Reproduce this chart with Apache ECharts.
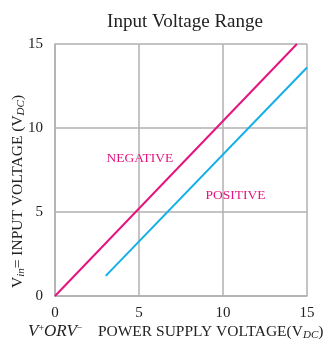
<!DOCTYPE html>
<html><head><meta charset="utf-8">
<script src="https://cdn.jsdelivr.net/npm/echarts@6/dist/echarts.min.js"></script>
<style>html,body{margin:0;padding:0;background:#fff}#c{width:326px;height:344px}</style>
</head><body><div id="c"></div>
<script>
var title = 'Input Voltage Range';
var xTicks = [0, 5, 10, 15];
var yTicks = [0, 5, 10, 15];
var negativeSeries = [[0, 0], [14.4, 15]];
var positiveSeries = [[3.02, 1.2], [15, 13.6]];
var negLabel = 'NEGATIVE';
var posLabel = 'POSITIVE';
var negLabelPos = [5.05, 8.2];
var posLabelPos = [10.75, 6.0];

var F = '"Liberation Serif", "Times New Roman", serif';
var chart = echarts.init(document.getElementById('c'));
chart.setOption({
  animation: false,
  title: {text: title, left: 180, top: 8, textAlign: 'center',
    textStyle: {fontFamily: F, fontWeight: 'normal', fontSize: 19, color: '#222'}},
  grid: {left: 55, right: 19, top: 44, bottom: 48},
  xAxis: {type: 'value', min: 0, max: 15, interval: 5,
    axisLine: {lineStyle: {color: '#b0b0b0', width: 1.5}},
    axisTick: {show: false},
    splitLine: {lineStyle: {color: '#b0b0b0', width: 1.5}},
    axisLabel: {fontFamily: F, fontSize: 15, color: '#222', margin: 10}},
  yAxis: {type: 'value', min: 0, max: 15, interval: 5,
    axisLine: {show: true, lineStyle: {color: '#b0b0b0', width: 1.5}},
    axisTick: {show: false},
    splitLine: {lineStyle: {color: '#b0b0b0', width: 1.5}},
    axisLabel: {fontFamily: F, fontSize: 15, color: '#222', margin: 12}},
  graphic: [
    {type: 'text', left: 28, top: 323, style: {
      text: '{i|V}{sup|+}{i|ORV}{sup|−}    POWER SUPPLY VOLTAGE(V{sub|DC})',
      font: '15.5px ' + F, fill: '#222',
      rich: {
        i: {fontFamily: F, fontStyle: 'italic', fontSize: 17, fill: '#222'},
        sup: {fontFamily: F, fontSize: 10, fill: '#222', padding: [0,0,8,0]},
        sub: {fontFamily: F, fontStyle: 'italic', fontSize: 11, fill: '#222', padding: [7,0,0,0]}
      }}},
    {type: 'text', x: 9, y: 288, rotation: Math.PI/2, style: {
      text: 'V{sub|in}= INPUT VOLTAGE (V{sub|DC})',
      font: '15.5px ' + F, fill: '#222',
      rich: {
        sub: {fontFamily: F, fontStyle: 'italic', fontSize: 11, fill: '#222', padding: [7,0,0,0]}
      }}}
  ],
  series: [
    {type: 'line', data: negativeSeries, showSymbol: false, silent: true,
      lineStyle: {color: '#e5147f', width: 2}, z: 3,
      markPoint: {symbol: 'rect', symbolSize: 0, data: [{coord: negLabelPos, label: {show: true, formatter: negLabel, color: '#e5147f', fontFamily: F, fontSize: 13.5}}]}},
    {type: 'line', data: positiveSeries, showSymbol: false, silent: true,
      lineStyle: {color: '#13b0e8', width: 2}, z: 3,
      markPoint: {symbol: 'rect', symbolSize: 0, data: [{coord: posLabelPos, label: {show: true, formatter: posLabel, color: '#e5147f', fontFamily: F, fontSize: 13.5}}]}}
  ]
});
</script></body></html>
